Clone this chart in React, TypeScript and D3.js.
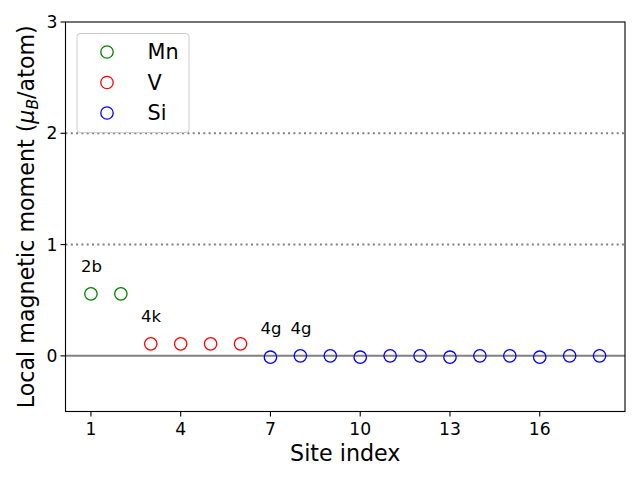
import React from "react";
import * as d3 from "d3";

const mnSites = [1, 2];
const mnValues = [0.557, 0.557];
const vSites = [3, 4, 5, 6];
const vValues = [0.108, 0.108, 0.108, 0.108];
const siSites = [7, 8, 9, 10, 11, 12, 13, 14, 15, 16, 17, 18];
const siValues = [-0.012, 0.0, 0.0, -0.012, 0.0, 0.0, -0.012, 0.0, 0.0, -0.012, 0.0, 0.0];
const xTicks = [1, 4, 7, 10, 13, 16];
const yTicks = [0, 1, 2, 3];
const annotations = [
  { site: 1, value: 0.557, label: "2b" },
  { site: 3, value: 0.108, label: "4k" },
  { site: 7, value: 0.0, label: "4g" },
  { site: 8, value: 0.0, label: "4g" },
];
const series = [
  { name: "Mn", color: "green", sites: mnSites, values: mnValues },
  { name: "V", color: "red", sites: vSites, values: vValues },
  { name: "Si", color: "blue", sites: siSites, values: siValues },
];

const W = 640, H = 480;
const L = 65.5, R = 625, T = 22, B = 411.5;
const font = "DejaVu Sans, sans-serif";

export default function App() {
  const x = d3.scaleLinear().domain([0.15, 18.85]).range([L, R]);
  const y = d3.scaleLinear().domain([-0.5, 3]).range([B, T]);
  return (
    <svg width={W} height={H} style={{ position: "absolute", left: 0, top: 0 }} fontFamily={font}>
      <rect x={0} y={0} width={W} height={H} fill="white" />
      {[1, 2].map((v) => (
        <line key={v} x1={L} x2={R} y1={y(v)} y2={y(v)} stroke="#808080" strokeWidth={2} strokeDasharray="2,3.3" />
      ))}
      <line x1={L} x2={R} y1={y(0)} y2={y(0)} stroke="#808080" strokeWidth={2} />
      {series.map((s) =>
        s.sites.map((site, i) => (
          <circle key={s.name + site} cx={x(site)} cy={y(s.values[i])} r={6.2} fill="none" stroke={s.color} strokeWidth={1.3} />
        ))
      )}
      {annotations.map((a, i) => (
        <text key={i} x={x(a.site - 0.33)} y={y(a.value + 0.2)} fontSize={16.5} fill="black">{a.label}</text>
      ))}
      <rect x={L} y={T} width={R - L} height={B - T} fill="none" stroke="black" strokeWidth={1.1} />
      {xTicks.map((t) => (
        <g key={t}>
          <line x1={x(t)} x2={x(t)} y1={B} y2={B + 5} stroke="black" strokeWidth={1.1} />
          <text x={x(t)} y={B + 23} textAnchor="middle" fontSize={17.2}>{t}</text>
        </g>
      ))}
      {yTicks.map((t) => (
        <g key={t}>
          <line x1={L - 5} x2={L} y1={y(t)} y2={y(t)} stroke="black" strokeWidth={1.1} />
          <text x={L - 8} y={y(t) + 6} textAnchor="end" fontSize={17.2}>{t}</text>
        </g>
      ))}
      <text x={(L + R) / 2} y={461} textAnchor="middle" fontSize={22.2}>Site index</text>
      <text transform={`translate(34, ${(T + B) / 2}) rotate(-90)`} textAnchor="middle" fontSize={22.2}>
        Local magnetic moment (<tspan fontStyle="italic">μ</tspan><tspan fontStyle="italic" fontSize={15.5} dy={4}>B</tspan><tspan dy={-4}>/atom)</tspan>
      </text>
      <rect x={77} y={33.5} width={112} height={99} rx={3} fill="white" fillOpacity={0.8} stroke="#cccccc" strokeWidth={1} />
      {series.map((s, i) => (
        <g key={s.name}>
          <circle cx={107} cy={52 + i * 30.5} r={6.2} fill="none" stroke={s.color} strokeWidth={1.3} />
          <text x={147.5} y={52 + i * 30.5 + 7} fontSize={20.8}>{s.name}</text>
        </g>
      ))}
    </svg>
  );
}
